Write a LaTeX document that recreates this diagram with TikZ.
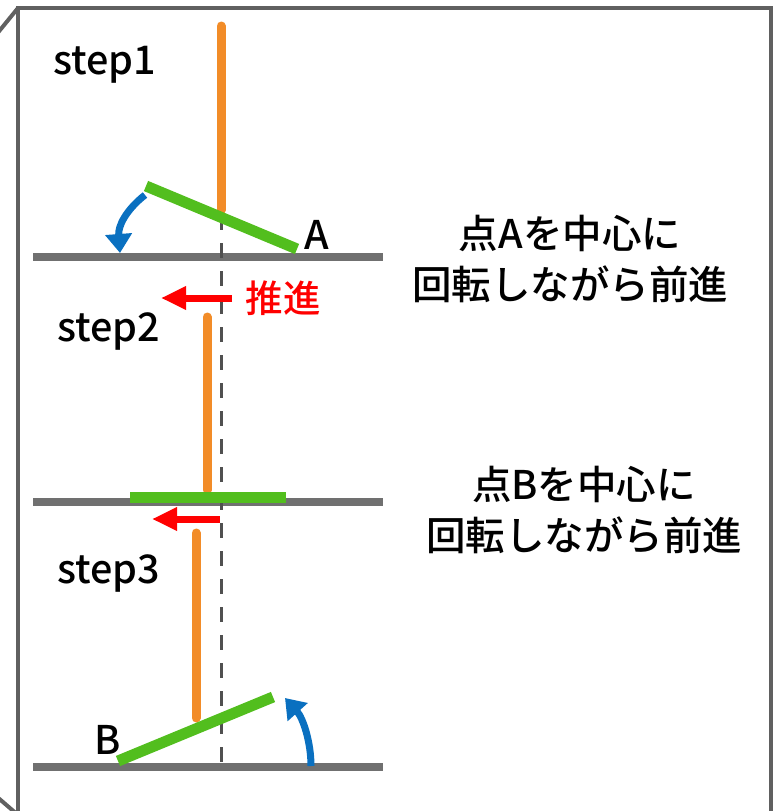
\documentclass[tikz,border=0pt]{standalone}
\usepackage{fontspec}
\setmainfont{Noto Sans CJK JP}[UprightFont=* Medium]
\usetikzlibrary{arrows.meta}
\definecolor{framecol}{HTML}{606060}
\definecolor{groundcol}{HTML}{707070}
\definecolor{rodcol}{HTML}{F28C28}
\definecolor{platecol}{HTML}{52BE1E}
\definecolor{turncol}{HTML}{0A70C0}
\definecolor{pushcol}{HTML}{FF0000}
\definecolor{dashcol}{HTML}{505050}
\tikzset{
  frameline/.style={draw=framecol, line width=4pt},
  groundline/.style={draw=groundcol, line width=8pt},
  rodline/.style={draw=rodcol, line width=9pt, line cap=round},
  plateline/.style={draw=platecol, line width=11pt},
  turnarrow/.style={draw=turncol, line width=7pt, -{Triangle[width=26pt,length=19pt]}},
  pusharrow/.style={draw=pushcol, line width=7pt, -{Triangle[width=22pt,length=25pt]}},
  centerline/.style={draw=dashcol, line width=3pt, dash pattern=on 15pt off 13pt},
  steplabel/.style={font=\fontsize{39.5}{44}\selectfont, inner sep=0pt, anchor=base west},
  desc/.style={font=\fontsize{39.5}{51}\selectfont, inner sep=0pt, align=center},
}
\begin{document}
\begin{tikzpicture}[x=1pt,y=-1pt]
\useasboundingbox (0,0) rectangle (773,811);
\clip (0,0) rectangle (773,811);
% frame
\coordinate (f1) at (18,830);
\coordinate (f2) at (18,8);
\coordinate (f3) at (771,8);
\coordinate (f4) at (771,830);
\coordinate (d1) at (-4,35);
\coordinate (d2) at (-4,796);
\coordinate (d3) at (18,815);
\draw[frameline, line join=miter] (f1) -- (f2) -- (f3) -- (f4);
\draw[frameline] (f2) -- (d1);
\draw[frameline] (d2) -- (d3);
% ground lines
\coordinate (g1a) at (33,257); \coordinate (g1b) at (383,257);
\coordinate (g2a) at (33,502); \coordinate (g2b) at (383,502);
\coordinate (g3a) at (33,767); \coordinate (g3b) at (383,767);
\draw[groundline] (g1a) -- (g1b);
\draw[groundline] (g2a) -- (g2b);
\draw[groundline] (g3a) -- (g3b);
% center dashed line
\coordinate (c1) at (221,215);
\coordinate (c2) at (221,767);
\draw[centerline] (c1) -- (c2);
% step 1
\coordinate (r1a) at (221,26); \coordinate (r1b) at (221,210);
\draw[rodline] (r1a) -- (r1b);
\coordinate (p1a) at (146,186); \coordinate (p1b) at (297,249);
\draw[plateline] (p1a) -- (p1b);
\coordinate (t1a) at (145,195); \coordinate (t1b) at (120,253);
\draw[turnarrow] (t1a) .. controls (126,210) and (118,226) .. (t1b);
\node[steplabel] (s1) at (53,74) {step1};
\node[steplabel] (lA) at (304,249) {A};
% push arrow 1
\coordinate (a1a) at (232,298); \coordinate (a1b) at (161,298);
\draw[pusharrow] (a1a) -- (a1b);
\node[font=\fontsize{37.5}{40}\selectfont, text=pushcol, inner sep=0pt] (push) at (283,298) {推進};
% step 2
\coordinate (r2a) at (207,317); \coordinate (r2b) at (207,490);
\draw[rodline] (r2a) -- (r2b);
\coordinate (p2a) at (130,497); \coordinate (p2b) at (286,497);
\draw[plateline] (p2a) -- (p2b);
\node[steplabel] (s2) at (57,341) {step2};
% push arrow 2
\coordinate (a2a) at (220,519); \coordinate (a2b) at (152,519);
\draw[pusharrow] (a2a) -- (a2b);
% step 3
\coordinate (r3a) at (196,533); \coordinate (r3b) at (196,718);
\draw[rodline] (r3a) -- (r3b);
\coordinate (p3a) at (118,761); \coordinate (p3b) at (273,697);
\draw[plateline] (p3a) -- (p3b);
\coordinate (t3a) at (311,766); \coordinate (t3b) at (285,698);
\draw[turnarrow] (t3a) .. controls (311,742) and (303,718) .. (t3b);
\node[steplabel] (s3) at (57,583) {step3};
\node[steplabel] (lB) at (94,754) {B};
% descriptions
\node[desc] (txt1) at (570,259) {点Aを中心に\\回転しながら前進};
\node[desc] (txt2) at (584,510) {点Bを中心に\\回転しながら前進};
\end{tikzpicture}
\end{document}
